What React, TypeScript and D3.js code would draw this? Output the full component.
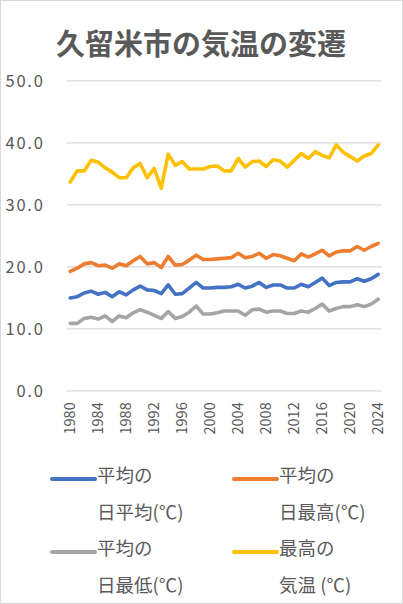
import React, { useRef, useEffect } from 'react';
import { select, scaleBand, scaleLinear, axisLeft, axisBottom, line, format } from 'd3';

// 久留米市の年別気温 (1980-2024)
const years = [
    1980, 1981, 1982, 1983, 1984, 1985, 1986, 1987, 1988, 1989,
    1990, 1991, 1992, 1993, 1994, 1995, 1996, 1997, 1998, 1999,
    2000, 2001, 2002, 2003, 2004, 2005, 2006, 2007, 2008, 2009,
    2010, 2011, 2012, 2013, 2014, 2015, 2016, 2017, 2018, 2019,
    2020, 2021, 2022, 2023, 2024,
];
const avgDaily = [
    14.9, 15.1, 15.7, 16.0, 15.5, 15.8, 15.1, 15.9, 15.4, 16.2,
    16.8, 16.2, 16.1, 15.6, 17.0, 15.5, 15.6, 16.5, 17.4, 16.5,
    16.5, 16.6, 16.6, 16.7, 17.1, 16.5, 16.8, 17.4, 16.6, 17.0,
    17.0, 16.5, 16.5, 17.1, 16.7, 17.4, 18.1, 16.9, 17.4, 17.5,
    17.5, 18.0, 17.6, 18.0, 18.7,
];
const avgDailyMax = [
    19.2, 19.7, 20.4, 20.6, 20.1, 20.2, 19.7, 20.4, 20.1, 20.9,
    21.6, 20.4, 20.6, 19.8, 21.6, 20.2, 20.3, 21.0, 21.8, 21.1,
    21.1, 21.2, 21.3, 21.4, 22.1, 21.4, 21.6, 22.1, 21.3, 21.9,
    21.7, 21.3, 20.9, 22.0, 21.5, 22.0, 22.6, 21.7, 22.3, 22.5,
    22.5, 23.2, 22.6, 23.2, 23.7,
];
const avgDailyMin = [
    10.8, 10.8, 11.6, 11.8, 11.5, 12.0, 11.1, 12.0, 11.7, 12.5,
    13.0, 12.6, 12.1, 11.6, 12.7, 11.6, 11.9, 12.6, 13.6, 12.3,
    12.3, 12.5, 12.8, 12.8, 12.8, 12.1, 13.0, 13.1, 12.6, 12.8,
    12.8, 12.4, 12.4, 12.8, 12.6, 13.2, 13.9, 12.8, 13.2, 13.5,
    13.5, 13.8, 13.5, 13.9, 14.7,
];
const maxTemp = [
    33.6, 35.4, 35.4, 37.1, 36.8, 35.9, 35.2, 34.3, 34.3, 35.9,
    36.6, 34.3, 35.8, 32.6, 38.1, 36.3, 36.9, 35.7, 35.7, 35.7,
    36.1, 36.2, 35.4, 35.4, 37.4, 36.0, 36.9, 37.0, 36.1, 37.2,
    37.0, 36.0, 37.1, 38.2, 37.4, 38.5, 37.9, 37.5, 39.6, 38.4,
    37.7, 37.0, 37.8, 38.2, 39.6,
];
const yTicks = [0, 10, 20, 30, 40, 50];
const xTickYears = [1980, 1984, 1988, 1992, 1996, 2000, 2004, 2008, 2012, 2016, 2020, 2024];

const series = [
    { name: ['平均の', '日平均(℃)'], values: avgDaily, color: '#4472C4' },
    { name: ['平均の', '日最高(℃)'], values: avgDailyMax, color: '#ED7D31' },
    { name: ['平均の', '日最低(℃)'], values: avgDailyMin, color: '#A5A5A5' },
    { name: ['最高の', '気温 (℃)'], values: maxTemp, color: '#FFC000' },
];

const W = 403;
const H = 604;
const FONT = '"Noto Sans CJK JP", "Noto Sans", sans-serif';
const TEXT = '#595959';

export default function App() {
    const svgRef: { current: SVGSVGElement | null } = useRef(null);

    useEffect(() => {
        const svg = select(svgRef.current);
        const left = 66.7;
        const right = 381.7;
        const top = 80.4;
        const bottom = 390.3;

        const xScale = scaleBand<number>().domain(years).range([left, right]);
        const yScale = scaleLinear().domain([0, 50]).range([bottom, top]);
        const cx = (i: number) => (xScale(years[i]) || 0) + xScale.bandwidth() / 2;

        // y axis + gridlines
        const yAxis: any = axisLeft(yScale)
            .tickValues(yTicks)
            .tickSize(-(right - left))
            .tickPadding(22)
            .tickFormat(format('.1f'));
        const yg = svg.select('.y-axis').attr('transform', `translate(${left},0)`).call(yAxis);
        yg.select('.domain').remove();
        yg.selectAll('line').attr('stroke', '#d9d9d9').attr('stroke-width', 1.3);
        yg.selectAll('text')
            .attr('fill', TEXT)
            .attr('font-size', 16.5)
            .attr('letter-spacing', 1.8)
            .attr('font-family', FONT)
            .attr('dy', '0.35em');

        // x axis, rotated labels
        const xAxis: any = axisBottom(xScale).tickValues(xTickYears).tickSize(0);
        const xg = svg.select('.x-axis').attr('transform', `translate(0,${bottom})`).call(xAxis);
        xg.select('.domain').remove();
        xg.selectAll('text')
            .attr('fill', TEXT)
            .attr('font-size', 14.5)
            .attr('font-family', FONT)
            .attr('transform', 'rotate(-90)')
            .attr('text-anchor', 'end')
            .attr('x', -12)
            .attr('y', 0)
            .attr('dy', '0.35em');

        const myLine: any = line<number>()
            .x((v, i) => cx(i))
            .y((v) => yScale(v));

        svg.select('.content')
            .selectAll('.series')
            .data(series)
            .join('path')
            .attr('class', 'series')
            .attr('d', (s) => myLine(s.values))
            .attr('fill', 'none')
            .attr('stroke', (s) => s.color)
            .attr('stroke-width', 3.6)
            .attr('stroke-linejoin', 'round')
            .attr('stroke-linecap', 'round');

        // legend 2x2
        const legend = svg.select('.legend');
        const items = legend
            .selectAll('.item')
            .data(series)
            .join('g')
            .attr('class', 'item')
            .attr('transform', (s, i) => `translate(${i % 2 === 0 ? 52 : 234},${i < 2 ? 479 : 552})`);
        items.selectAll('*').remove();
        items
            .append('line')
            .attr('x1', 0)
            .attr('x2', 43)
            .attr('y1', 0)
            .attr('y2', 0)
            .attr('stroke', (s) => s.color)
            .attr('stroke-width', 4)
            .attr('stroke-linecap', 'round');
        items
            .selectAll('text')
            .data((s) => s.name)
            .join('text')
            .attr('x', 45)
            .attr('y', (t, j) => (j === 0 ? -3 : 34))
            .attr('dy', '0.35em')
            .attr('fill', TEXT)
            .attr('font-size', 18.5)
            .attr('font-family', FONT)
            .text((t) => t);
    }, []);

    return (
        <svg
            ref={svgRef}
            width={W}
            height={H}
            style={{ position: 'absolute', left: 0, top: 0, background: '#fff' }}
        >
            <rect x={0.5} y={0.5} width={W - 1} height={H - 1} fill="#fff" stroke="#d9d9d9" />
            <text
                x={201}
                y={42}
                textAnchor="middle"
                dominantBaseline="central"
                fontSize={29}
                fontWeight="bold"
                fill={TEXT}
                fontFamily={FONT}
            >
                久留米市の気温の変遷
            </text>
            <g className="y-axis" />
            <g className="x-axis" />
            <g className="content" />
            <g className="legend" />
        </svg>
    );
}
